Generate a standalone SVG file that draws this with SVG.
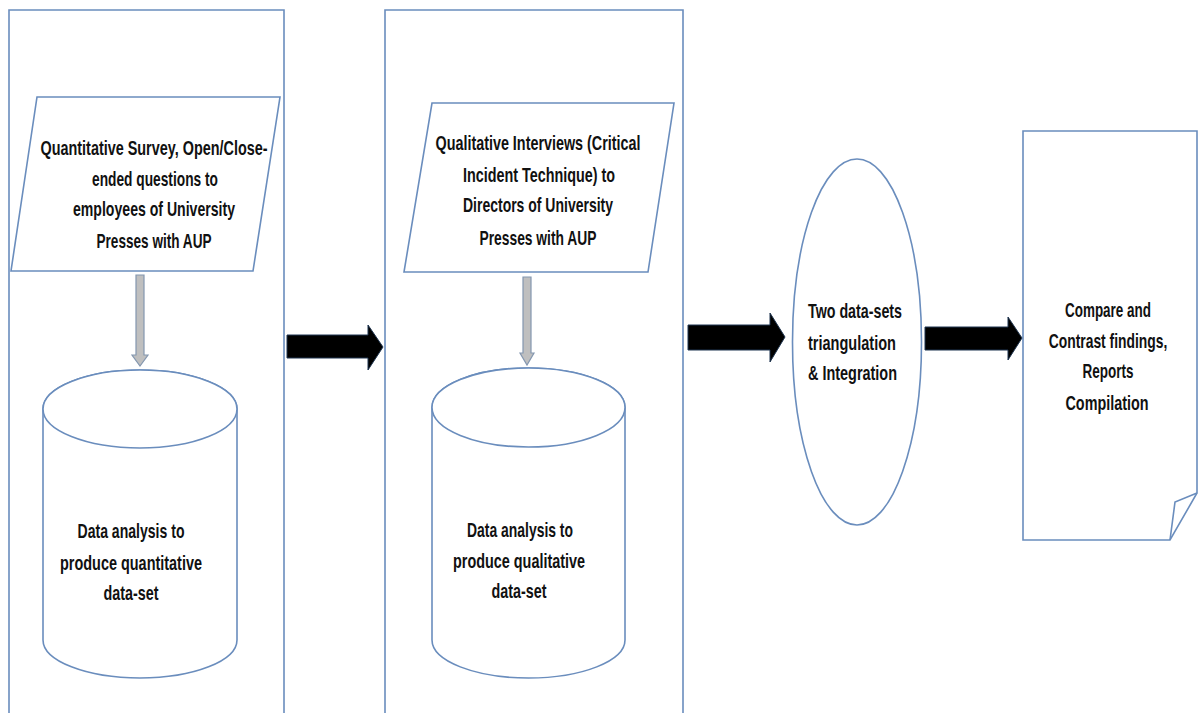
<svg xmlns="http://www.w3.org/2000/svg" width="1198" height="713" viewBox="0 0 1198 713">
<style>
.ln{fill:#ffffff;stroke:#6a8dbd;stroke-width:1.6}
.ol{fill:none;stroke:#6a8dbd;stroke-width:1.6}
.t{font-family:"Liberation Sans",Arial,sans-serif;font-weight:bold;font-size:21px;fill:#111111}
.c{text-anchor:middle}
.ga{fill:#bfbfbf;stroke:#8497b0;stroke-width:1.2}
.ba{fill:#000000;stroke:#1f3550;stroke-width:1}
</style>
<rect width="1198" height="713" fill="#ffffff"/>
<g id="panel1">
<path class="ol" d="M9,720 V10 H284 V720"/>
</g>
<g id="panel2">
<path class="ol" d="M385,720 V10 H683 V720"/>
</g>
<g id="survey">
<polygon class="ln" points="37,97 280,97 253,271 11,271"/>
<text class="t c" x="154" y="155" textLength="227" lengthAdjust="spacingAndGlyphs">Quantitative Survey, Open/Close-</text>
<text class="t c" x="155" y="186" textLength="126" lengthAdjust="spacingAndGlyphs">ended questions to</text>
<text class="t c" x="154" y="216" textLength="162" lengthAdjust="spacingAndGlyphs">employees of University</text>
<text class="t c" x="154" y="248" textLength="115" lengthAdjust="spacingAndGlyphs">Presses with AUP</text>
</g>
<g id="quantdata">
<path class="ln" d="M43,409 A97,39 0 0 1 237,409 L237,640 A97,38 0 0 1 43,640 Z"/>
<ellipse class="ln" cx="140" cy="409" rx="97" ry="39"/>
<text class="t c" x="131" y="538" textLength="107" lengthAdjust="spacingAndGlyphs">Data analysis to</text>
<text class="t c" x="131" y="570" textLength="142" lengthAdjust="spacingAndGlyphs">produce quantitative</text>
<text class="t c" x="131" y="600" textLength="55" lengthAdjust="spacingAndGlyphs">data-set</text>
</g>
<g id="interviews">
<polygon class="ln" points="432,103 674,103 648,272 404,272"/>
<text class="t c" x="538" y="150" textLength="205" lengthAdjust="spacingAndGlyphs">Qualitative Interviews (Critical</text>
<text class="t c" x="539" y="182" textLength="152" lengthAdjust="spacingAndGlyphs">Incident Technique) to</text>
<text class="t c" x="538" y="212" textLength="150" lengthAdjust="spacingAndGlyphs">Directors of University</text>
<text class="t c" x="538" y="245" textLength="117" lengthAdjust="spacingAndGlyphs">Presses with AUP</text>
</g>
<g id="qualdata">
<path class="ln" d="M432,407.5 A96.5,39.5 0 0 1 625,407.5 L625,640 A96.5,38 0 0 1 432,640 Z"/>
<ellipse class="ln" cx="528.5" cy="407.5" rx="96.5" ry="39.5"/>
<text class="t c" x="520" y="537" textLength="106" lengthAdjust="spacingAndGlyphs">Data analysis to</text>
<text class="t c" x="519" y="568" textLength="132" lengthAdjust="spacingAndGlyphs">produce qualitative</text>
<text class="t c" x="519" y="598" textLength="55" lengthAdjust="spacingAndGlyphs">data-set</text>
</g>
<g id="triangulation">
<ellipse class="ln" cx="857" cy="342" rx="64.5" ry="183"/>
<text class="t" x="808" y="318" textLength="94" lengthAdjust="spacingAndGlyphs">Two data-sets</text>
<text class="t" x="808" y="350" textLength="88" lengthAdjust="spacingAndGlyphs">triangulation</text>
<text class="t" x="808" y="380" textLength="89" lengthAdjust="spacingAndGlyphs">&amp; Integration</text>
</g>
<g id="reports">
<path class="ln" d="M1023,131 H1197 V493 L1170,540 H1023 Z"/>
<path class="ol" d="M1170,540 L1175,502 L1197,493"/>
<text class="t c" x="1108" y="317" textLength="86" lengthAdjust="spacingAndGlyphs">Compare and</text>
<text class="t c" transform="translate(1108,348) scale(0.66,1)" x="0" y="0">Contrast findings,</text>
<text class="t c" x="1108" y="378" textLength="51" lengthAdjust="spacingAndGlyphs">Reports</text>
<text class="t c" x="1107" y="410" textLength="83" lengthAdjust="spacingAndGlyphs">Compilation</text>
</g>
<g id="connectors">
<polygon class="ga" points="136,275 144,275 144,355 148,355 140,366 132,355 136,355"/>
<polygon class="ga" points="523,277 531,277 531,353 534,353 527,365 520,353 523,353"/>
<polygon class="ba" points="287,335 368,335 368,325 383,347 368,370 368,358 287,358"/>
<polygon class="ba" points="688,325 770,325 770,313 785,337 770,362 770,350 688,350"/>
<polygon class="ba" points="925,327 1008,327 1008,317 1022,338 1008,360 1008,350 925,350"/>
</g>
</svg>
